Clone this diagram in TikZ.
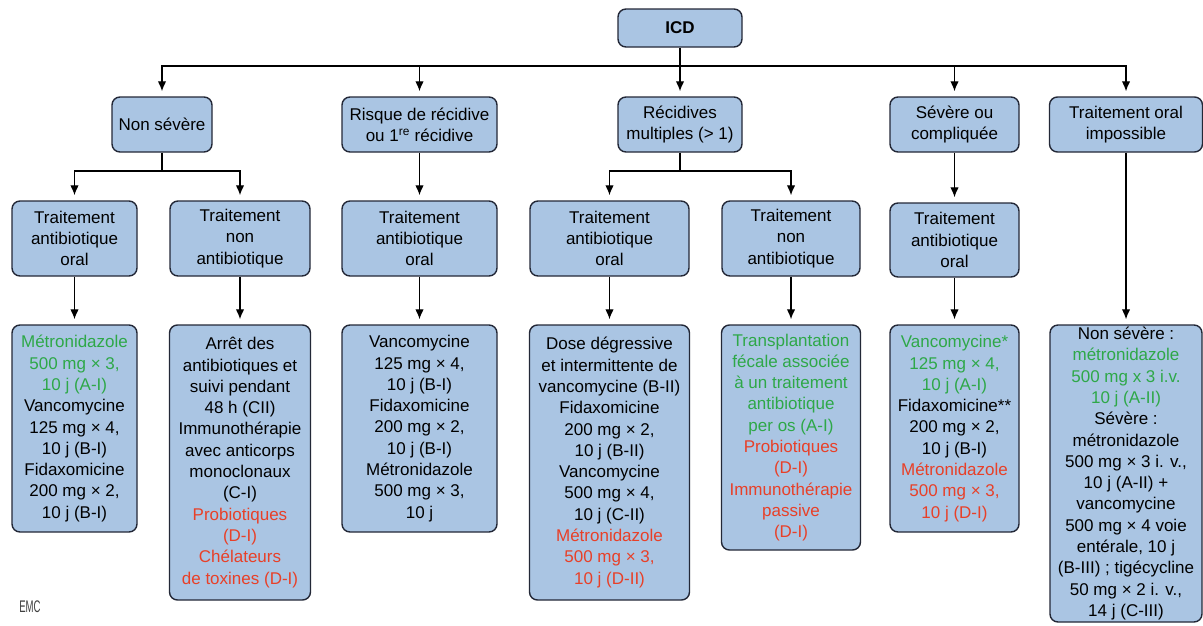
\documentclass[tikz,border=0pt]{standalone}
\usepackage{fontspec}
\setmainfont{Liberation Sans}
\usetikzlibrary{arrows.meta}
\definecolor{boxfill}{RGB}{170,197,227}
\definecolor{boxline}{RGB}{35,40,55}
\definecolor{recgreen}{RGB}{46,168,72}
\definecolor{recred}{RGB}{232,64,40}
\newcommand{\recg}[1]{\textcolor{recgreen}{#1}}
\newcommand{\recr}[1]{\textcolor{recred}{#1}}
\tikzset{
    every node/.style={align=center,font=\fontsize{17}{21.3}\selectfont,},
    stage/.style={draw=boxline,fill=boxfill,rectangle,rounded corners=8pt,line width=1.4pt,inner sep=0pt,},
    feed/.style={-{Latex[length=10pt,width=8.5pt]},shorten >=5pt,},
}

\begin{document}
\begin{tikzpicture}[x=1pt,y=-1pt,line width=1.3pt]
        \useasboundingbox (0,0) rectangle (1203,625);

        \node[stage, minimum width=124pt, minimum height=38pt, font=\bfseries\fontsize{17}{21.3}\selectfont] (icd) at (680,28) {ICD};

        \node[stage, minimum width=100pt, minimum height=55pt] (nonsev) at (162,124.5) {Non sévère};
        \node[stage, minimum width=155pt, minimum height=55pt] (risk) at (419.5,124.5) {Risque de récidive\\ou 1\textsuperscript{re} récidive};
        \node[stage, minimum width=124pt, minimum height=55pt] (multi) at (680,124.5) {Récidives\\multiples (> 1)};
        \node[stage, minimum width=129pt, minimum height=55pt] (severe) at (954.5,124.5) {Sévère ou\\compliquée};
        \node[stage, minimum width=153pt, minimum height=55pt] (nooral) at (1126,124.5) {Traitement oral\\impossible};

        \coordinate (bus) at (680,66);
        \coordinate (fork1) at (162,171);
        \coordinate (fork2) at (680,171);

        \node[stage, minimum width=125pt, minimum height=75pt] (oral1) at (74.5,238.5) {Traitement\\antibiotique\\oral};
        \node[stage, minimum width=140pt, minimum height=75pt] (nonab1) at (240,238.5) {Traitement\\non\\antibiotique};
        \node[stage, minimum width=155pt, minimum height=75pt] (oral2) at (419.5,238.5) {Traitement\\antibiotique\\oral};
        \node[stage, minimum width=159pt, minimum height=75pt] (oral3) at (609.5,238.5) {Traitement\\antibiotique\\oral};
        \node[stage, minimum width=138pt, minimum height=75pt] (nonab3) at (791,238.5) {Traitement\\non\\antibiotique};
        \node[stage, minimum width=129pt, minimum height=74pt] (oral4) at (954.5,240) {Traitement\\antibiotique\\oral};

        \node[stage, minimum width=125pt, minimum height=207pt] (rx1) at (74.5,428.5) {\recg{Métronidazole}\\\recg{500 mg × 3,}\\\recg{10 j (A-I)}\\Vancomycine\\125 mg × 4,\\10 j (B-I)\\Fidaxomicine\\200 mg × 2,\\10 j (B-I)};
        \node[stage, minimum width=141pt, minimum height=275pt] (rx2) at (240,462.5) {Arrêt des\\antibiotiques et\\suivi pendant\\48 h (CII)\\Immunothérapie\\avec anticorps\\monoclonaux\\(C-I)\\\recr{Probiotiques}\\\recr{(D-I)}\\\recr{Chélateurs}\\\recr{de toxines (D-I)}};
        \node[stage, minimum width=155pt, minimum height=207pt] (rx3) at (419.5,428.5) {Vancomycine\\125 mg × 4,\\10 j (B-I)\\Fidaxomicine\\200 mg × 2,\\10 j (B-I)\\Métronidazole\\500 mg × 3,\\10 j};
        \node[stage, minimum width=160pt, minimum height=275pt] (rx4) at (609.5,462.5) {Dose dégressive\\et intermittente de\\vancomycine (B-II)\\Fidaxomicine\\200 mg × 2,\\10 j (B-II)\\Vancomycine\\500 mg × 4,\\10 j (C-II)\\\recr{Métronidazole}\\\recr{500 mg × 3,}\\\recr{10 j (D-II)}};
        \node[stage, minimum width=139pt, minimum height=225pt] (rx5) at (791,437.5) {\recg{Transplantation}\\\recg{fécale associée}\\\recg{à un traitement}\\\recg{antibiotique}\\\recg{per os (A-I)}\\\recr{Probiotiques}\\\recr{(D-I)}\\\recr{Immunothérapie}\\\recr{passive}\\\recr{(D-I)}};
        \node[stage, minimum width=129pt, minimum height=207pt] (rx6) at (954.5,428.5) {\recg{Vancomycine*}\\\recg{125 mg × 4,}\\\recg{10 j (A-I)}\\Fidaxomicine**\\200 mg × 2,\\10 j (B-I)\\\recr{Métronidazole}\\\recr{500 mg × 3,}\\\recr{10 j (D-I)}};
        \node[stage, minimum width=152pt, minimum height=297pt] (rx7) at (1126,473.5) {Non sévère :\\\recg{métronidazole}\\\recg{500 mg x 3 i.v.}\\\recg{10 j (A-II)}\\Sévère :\\métronidazole\\500 mg × 3 i. v.,\\10 j (A-II) +\\vancomycine\\500 mg × 4 voie\\entérale, 10 j\\(B-III) ; tigécycline\\50 mg × 2 i. v.,\\14 j (C-III)};

        \node[font=\fontsize{16}{16}\selectfont, text=black!75] (emc) at (30,607) {\scalebox{0.6}[1.05]{EMC}};

        \draw (icd) to (bus);
        \draw[feed] (bus) to (multi);
        \draw[feed] (bus) -| (nonsev);
        \draw[feed] (bus) -| (risk);
        \draw[feed] (bus) -| (severe);
        \draw[feed] (bus) -| (nooral);

        \draw (nonsev) to (fork1);
        \draw[feed] (fork1) -| (oral1);
        \draw[feed] (fork1) -| (nonab1);
        \draw[feed] (risk) to (oral2);
        \draw (multi) to (fork2);
        \draw[feed] (fork2) -| (oral3);
        \draw[feed] (fork2) -| (nonab3);
        \draw[feed] (severe) to (oral4);

        \draw[feed] (oral1) to (rx1);
        \draw[feed] (nonab1) to (rx2);
        \draw[feed] (oral2) to (rx3);
        \draw[feed] (oral3) to (rx4);
        \draw[feed] (nonab3) to (rx5);
        \draw[feed] (oral4) to (rx6);
        \draw[feed] (nooral) to (rx7);
    \end{tikzpicture}
\end{document}
